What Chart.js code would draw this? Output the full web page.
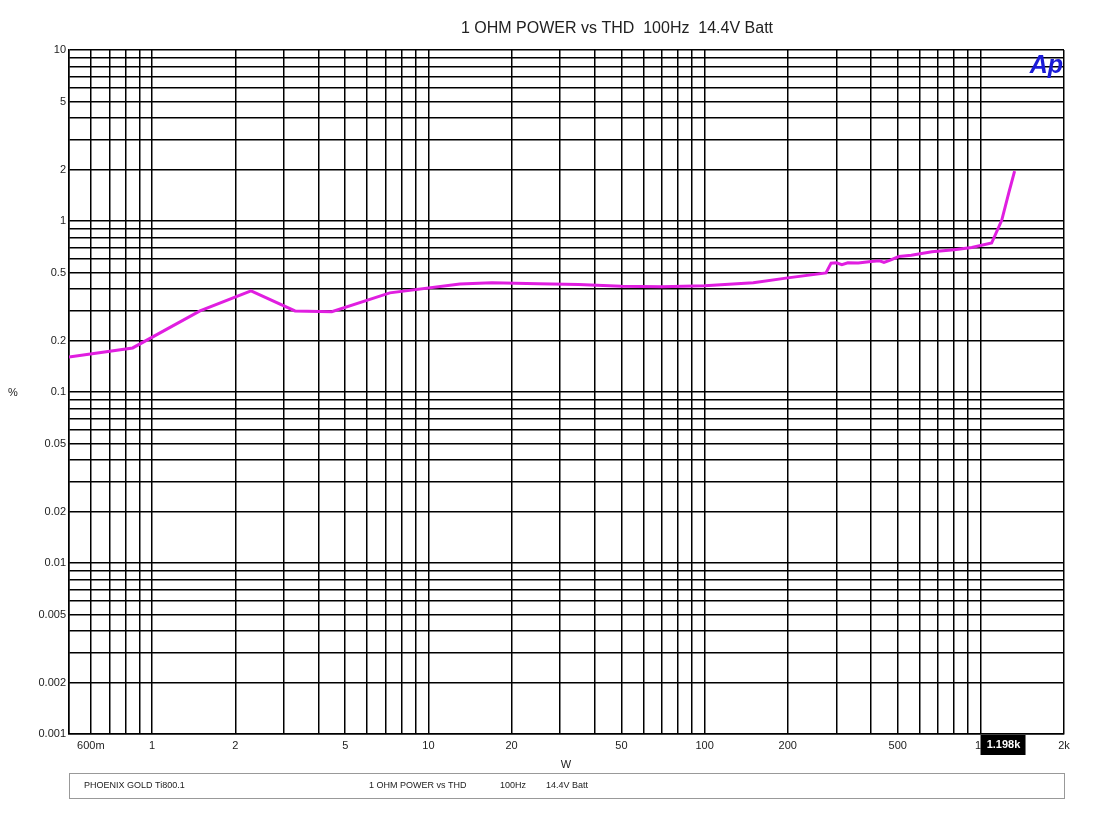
<!DOCTYPE html>
<html>
<head>
<meta charset="utf-8">
<script src="https://cdn.jsdelivr.net/npm/chart.js@4"></script>
<style>
  html, body { margin: 0; padding: 0; background: #fff; }
  #wrap { width: 1093px; height: 815px; }
</style>
</head>
<body>
<div id="wrap"><canvas id="thdChart" width="1093" height="815"></canvas></div>
<script>
const powerW = [0.5, 0.85, 1.49, 2.28, 3.29, 4.47, 7.25, 13, 17, 25, 35, 50, 70, 100, 150, 200, 275,
                287, 300, 314, 330, 360, 400, 430, 446, 470, 505, 560, 665, 800, 927, 1094, 1190, 1262, 1325];
const thdPct = [0.160, 0.181, 0.298, 0.39, 0.298, 0.295, 0.38, 0.428, 0.435, 0.43, 0.425, 0.415, 0.413, 0.418, 0.435, 0.465, 0.497,
                0.567, 0.57, 0.555, 0.57, 0.568, 0.58, 0.585, 0.572, 0.59, 0.62, 0.63, 0.66, 0.68, 0.70, 0.743, 1.01, 1.46, 1.96];

const xTicks = [0.5, 0.6, 0.7, 0.8, 0.9, 1, 2, 3, 4, 5, 6, 7, 8, 9, 10, 20, 30, 40, 50, 60, 70, 80, 90,
                100, 200, 300, 400, 500, 600, 700, 800, 900, 1000, 2000];
const xLabels = { 0.6: '600m', 1: '1', 2: '2', 5: '5', 10: '10', 20: '20', 50: '50', 100: '100',
                  200: '200', 500: '500', 1000: '1k', 2000: '2k' };
const yTicks = [0.001, 0.002, 0.003, 0.004, 0.005, 0.006, 0.007, 0.008, 0.009,
                0.01, 0.02, 0.03, 0.04, 0.05, 0.06, 0.07, 0.08, 0.09,
                0.1, 0.2, 0.3, 0.4, 0.5, 0.6, 0.7, 0.8, 0.9,
                1, 2, 3, 4, 5, 6, 7, 8, 9, 10];
const yLabels = { 0.001: '0.001', 0.002: '0.002', 0.005: '0.005', 0.01: '0.01', 0.02: '0.02', 0.05: '0.05',
                  0.1: '0.1', 0.2: '0.2', 0.5: '0.5', 1: '1', 2: '2', 5: '5', 10: '10' };

const titleText = '1 OHM POWER vs THD  100Hz  14.4V Batt';
const cursorValue = 1198;
const cursorText = '1.198k';

const points = powerW.map((w, i) => ({ x: w, y: thdPct[i] }));

const FONT = 'Arial, "Liberation Sans", sans-serif';

const decorPlugin = {
    id: 'decor',
    afterDraw(chart) {
        const ctx = chart.ctx;
        const area = chart.chartArea;
        const xs = chart.scales.x;
        ctx.save();

        // title
        ctx.fillStyle = '#222';
        ctx.font = '16px ' + FONT;
        ctx.textAlign = 'center';
        ctx.textBaseline = 'middle';
        ctx.fillText(titleText, 617, 29);

        // axis titles
        ctx.font = '11px ' + FONT;
        ctx.fillText('%', 13, 393);
        ctx.fillText('W', 566, 765);

        // Ap logo
        ctx.fillStyle = '#1a1ad8';
        ctx.font = 'italic bold 25px ' + FONT;
        ctx.textAlign = 'right';
        ctx.textBaseline = 'alphabetic';
        ctx.fillText('Ap', area.right - 1, 73);

        // cursor readout box
        const cx = xs.getPixelForValue(cursorValue);
        ctx.fillStyle = '#000';
        ctx.fillRect(cx - 22, area.bottom + 1, 45, 20);
        ctx.fillStyle = '#fff';
        ctx.font = 'bold 11px ' + FONT;
        ctx.textAlign = 'center';
        ctx.textBaseline = 'middle';
        ctx.fillText(cursorText, cx + 1, area.bottom + 11);

        // legend box
        ctx.strokeStyle = '#999';
        ctx.lineWidth = 1;
        ctx.strokeRect(area.left + 0.5, 773.5, area.right - area.left, 25);
        ctx.fillStyle = '#222';
        ctx.font = '9px ' + FONT;
        ctx.textAlign = 'left';
        ctx.fillText('PHOENIX GOLD Ti800.1', 84, 786);
        ctx.fillText('1 OHM POWER vs THD', 369, 786);
        ctx.fillText('100Hz', 500, 786);
        ctx.fillText('14.4V Batt', 546, 786);

        ctx.restore();
    }
};

new Chart(document.getElementById('thdChart').getContext('2d'), {
    type: 'scatter',
    data: {
        datasets: [{
            label: 'THD',
            data: points,
            showLine: true,
            borderColor: '#e01ee0',
            backgroundColor: '#e01ee0',
            borderWidth: 3,
            pointRadius: 0,
            tension: 0
        }]
    },
    options: {
        responsive: false,
        animation: false,
        layout: { padding: { top: 50, right: 29, bottom: 61, left: 0 } },
        plugins: {
            legend: { display: false },
            tooltip: { enabled: false }
        },
        scales: {
            x: {
                type: 'logarithmic',
                min: 0.5,
                max: 2000,
                afterBuildTicks: axis => { axis.ticks = xTicks.map(v => ({ value: v })); },
                afterFit: axis => { axis.height = 20; },
                grid: { color: '#000', lineWidth: 1.5, drawTicks: false },
                border: { color: '#000', width: 1.5 },
                ticks: {
                    autoSkip: false,
                    maxRotation: 0,
                    padding: 5,
                    color: '#222',
                    font: { size: 11, family: FONT },
                    callback: v => xLabels[v] || ''
                }
            },
            y: {
                type: 'logarithmic',
                min: 0.001,
                max: 10,
                afterBuildTicks: axis => { axis.ticks = yTicks.map(v => ({ value: v })); },
                afterFit: axis => { axis.width = 69; },
                grid: { color: '#000', lineWidth: 1.5, drawTicks: false },
                border: { color: '#000', width: 1.5 },
                ticks: {
                    autoSkip: false,
                    padding: 3,
                    color: '#222',
                    font: { size: 11, family: FONT },
                    callback: v => yLabels[v] || ''
                }
            }
        }
    },
    plugins: [decorPlugin]
});
</script>
</body>
</html>
